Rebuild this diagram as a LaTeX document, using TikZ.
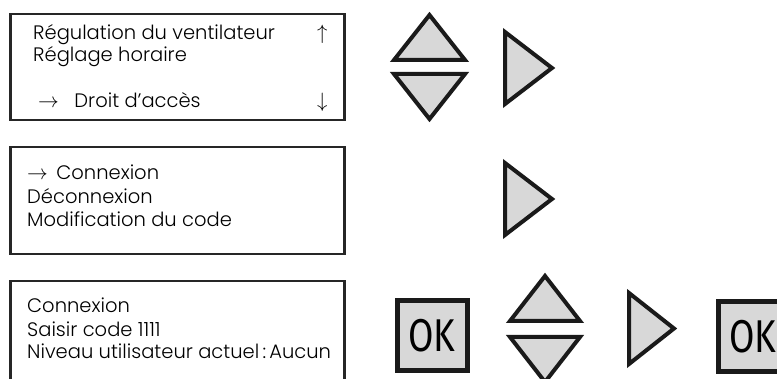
\documentclass[tikz,border=0pt]{standalone}
\usepackage{fontspec}
\setmainfont{Poppins}[UprightFont=* Light]
\newfontfamily\okfont[FakeStretch=0.8]{Fira Sans}
\usetikzlibrary{positioning}
\definecolor{keygray}{RGB}{216,216,216}
\definecolor{keyedge}{RGB}{26,26,26}

\begin{document}
\begin{tikzpicture}[
  x=1pt, y=-1pt,
  font=\fontsize{19.5}{23}\selectfont,
  screen/.style={draw=black!85, line width=2.5pt, anchor=north west, minimum width=334pt, inner sep=0pt},
  txt/.style={anchor=base west, inner sep=0pt},
  btn/.style={draw=keyedge, fill=keygray, line width=4pt},
  okkey/.style={draw=keyedge, fill=keygray, line width=5pt, anchor=north west, minimum size=70pt, inner sep=0pt, font=\okfont\fontsize{46}{46}\selectfont}
]
\useasboundingbox (0,0) rectangle (777,379);
% display screens
\node[screen, minimum height=106pt] (menu) at (9,13) {};
\node[screen, minimum height=107pt] (access) at (9,146) {};
\node[screen, minimum height=120pt] (login) at (9,280) {};
% screen 1
\node[txt] (m1) at (33,39.5) {Régulation du ventilateur};
\node[txt] (m2) at (33,62) {Réglage horaire};
\node[txt] (m3) at (38,108) {$\rightarrow$\hspace{15.5pt}Droit d’accès};
\node[txt] (mup) at (317,39.5) {$\uparrow$};
\node[txt] (mdn) at (317,108) {$\downarrow$};
% screen 2
\node[txt] (a1) at (27,180) {$\rightarrow$\hspace{8.5pt}Connexion};
\node[txt] (a2) at (27,204) {Déconnexion};
\node[txt] (a3) at (27,227) {Modification du code};
% screen 3
\node[txt] (l1) at (27,313) {Connexion};
\node[txt] (l2) at (27,337) {Saisir code 1111};
\node[txt] (l3) at (27,359) {Niveau utilisateur actuel\,:\,Aucun};
% keys, row 1
\draw[btn] (394,60) -- (429.5,15) -- (465,60) -- cycle;
\draw[btn] (394,74) -- (465,74) -- (429.5,119) -- cycle;
\draw[btn] (505,32) -- (552,68) -- (505,104) -- cycle;
% keys, row 2
\draw[btn] (505,163) -- (552,199) -- (505,235) -- cycle;
% keys, row 3
\node[okkey] (ok1) at (394.5,298.5) {OK};
\draw[btn] (510,321) -- (545,276) -- (580,321) -- cycle;
\draw[btn] (510,337) -- (580,337) -- (545,382) -- cycle;
\draw[btn] (629,293) -- (674,328.5) -- (629,364) -- cycle;
\node[okkey] (ok2) at (715.5,299.5) {OK};
\end{tikzpicture}
\end{document}
